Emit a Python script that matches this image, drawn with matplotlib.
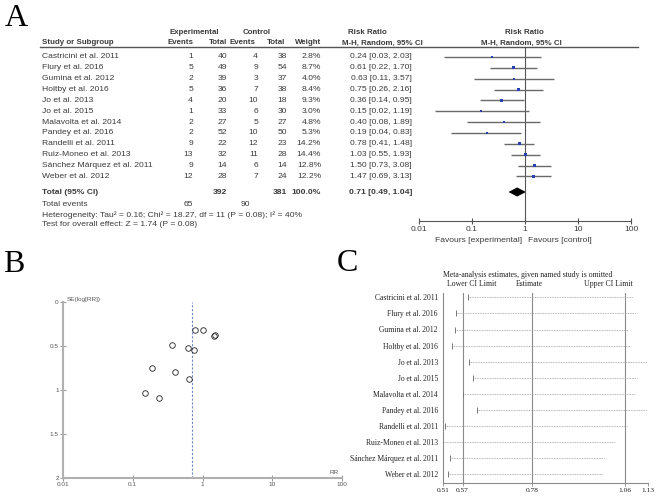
import numpy as np
import matplotlib
matplotlib.use("Agg")
import matplotlib.pyplot as plt

studies = ["Castricini et al. 2011", "Flury et al. 2016", "Gumina et al. 2012", "Holtby et al. 2016",
           "Jo et al. 2013", "Jo et al. 2015", "Malavolta et al. 2014", "Pandey et al. 2016",
           "Randelli et al. 2011", "Ruiz-Moneo et al. 2013", "Sánchez Márquez et al. 2011", "Weber et al. 2012"]
exp_events = [1, 5, 2, 5, 4, 1, 2, 2, 9, 13, 9, 12]
exp_total = [40, 49, 39, 36, 20, 33, 27, 52, 22, 32, 14, 28]
ctrl_events = [4, 9, 3, 7, 10, 6, 5, 10, 12, 11, 6, 7]
ctrl_total = [38, 54, 37, 38, 18, 30, 27, 50, 23, 28, 14, 24]
weights = [2.8, 8.7, 4.0, 8.4, 9.3, 3.0, 4.8, 5.3, 14.2, 14.4, 12.8, 12.2]
rr = [0.24, 0.61, 0.63, 0.75, 0.36, 0.15, 0.40, 0.19, 0.78, 1.03, 1.50, 1.47]
rr_lo = [0.03, 0.22, 0.11, 0.26, 0.14, 0.02, 0.08, 0.04, 0.41, 0.55, 0.73, 0.69]
rr_hi = [2.03, 1.70, 3.57, 2.16, 0.95, 1.19, 1.89, 0.83, 1.48, 1.93, 3.08, 3.13]
total_rr, total_lo, total_hi = 0.71, 0.49, 1.04
total_exp, total_ctrl = 392, 381
events_exp, events_ctrl = 65, 90

# funnel plot: standard error of log RR for each study
se_logrr = [1.09, 0.52, 0.88, 0.54, 0.49, 1.03, 0.79, 0.75, 0.32, 0.32, 0.37, 0.39]

# sensitivity analysis (study omitted)
sens_lo = [0.585, 0.549, 0.547, 0.537, 0.589, 0.601, 0.570, 0.613, 0.516, 0.510, 0.533, 0.527]
sens_hi = [1.085, 1.093, 1.070, 1.075, 1.127, 1.097, 1.090, 1.125, 1.065, 1.030, 0.996, 0.993]
sens_ticks = [0.51, 0.57, 0.78, 1.06, 1.13]
sens_ref = [0.57, 0.78, 1.06]

W, H = 659, 496
fig = plt.figure(figsize=(W / 100, H / 100), dpi=100)


def fax(x0, y0, x1, y1):
    a = fig.add_axes([x0 / W, 1 - y1 / H, (x1 - x0) / W, (y1 - y0) / H])
    a.patch.set_visible(False)
    return a


# overlay for the table text
ov = fax(0, 0, W, H)
ov.set_xlim(0, W)
ov.set_ylim(H, 0)
ov.axis("off")

SANS = "Liberation Sans"
SERIF = "Liberation Serif"
TC = "#3a3a3a"
FS = 6.1
HFS = 5.7


def t(x, y, s, ha="left", fs=FS, fam=SANS, weight="normal", color=TC):
    ov.text(x, y, s, ha=ha, va="center", fontsize=fs, family=fam, weight=weight, color=color)


# panel letters
ov.text(5, 26, "A", fontsize=23, family=SERIF, va="baseline")
ov.text(3, 272, "B", fontsize=23, family=SERIF, va="baseline")
ov.text(337, 271, "C", fontsize=23, family=SERIF, va="baseline")

# ---------- panel A table ----------
t(194, 33, "Experimental", ha="center", fs=HFS, weight="bold")
t(257, 33, "Control", ha="center", fs=HFS, weight="bold")
t(367, 33, "Risk Ratio", ha="center", fs=HFS, weight="bold")
t(524, 33, "Risk Ratio", ha="center", fs=HFS, weight="bold")
t(42, 43, "Study or Subgroup", fs=HFS, weight="bold")
t(193, 43, "Events", ha="right", fs=HFS, weight="bold")
t(227, 43, "Total", ha="right", fs=HFS, weight="bold")
t(255, 43, "Events", ha="right", fs=HFS, weight="bold")
t(285, 43, "Total", ha="right", fs=HFS, weight="bold")
t(321, 43, "Weight", ha="right", fs=HFS, weight="bold")
t(382, 43, "M-H, Random, 95% CI", ha="center", fs=HFS, weight="bold")
t(521, 43, "M-H, Random, 95% CI", ha="center", fs=HFS, weight="bold")
ov.plot([40, 638], [47, 47], color="#555555", lw=1.0)

row0, dy = 57, 10.85
for i, name in enumerate(studies):
    y = row0 + dy * i
    t(42, y, name)
    t(193, y, str(exp_events[i]), ha="right")
    t(227, y, str(exp_total[i]), ha="right")
    t(258, y, str(ctrl_events[i]), ha="right")
    t(287, y, str(ctrl_total[i]), ha="right")
    t(321, y, "%.1f%%" % weights[i], ha="right")
    t(412, y, "%.2f [%.2f, %.2f]" % (rr[i], rr_lo[i], rr_hi[i]), ha="right")

t(42, 192, "Total (95% CI)", weight="bold")
t(227, 192, str(total_exp), ha="right", weight="bold")
t(287, 192, str(total_ctrl), ha="right", weight="bold")
t(321, 192, "100.0%", ha="right", weight="bold")
t(412, 192, "%.2f [%.2f, %.2f]" % (total_rr, total_lo, total_hi), ha="right", weight="bold")
t(42, 204, "Total events")
t(193, 204, str(events_exp), ha="right")
t(250, 204, str(events_ctrl), ha="right")
t(42, 215, "Heterogeneity: Tau² = 0.16; Chi² = 18.27, df = 11 (P = 0.08); I² = 40%")
t(42, 225, "Test for overall effect: Z = 1.74 (P = 0.08)")
t(522, 240, "Favours [experimental]", ha="right")
t(528, 240, "Favours [control]")

# forest plot
fa = fax(419, 47, 631, 221)
rows = np.arange(len(studies))
fa.set_xscale("log")
fa.set_xlim(0.01, 100)
fa.set_ylim((221 - row0) / dy, (47 - row0) / dy)
fa.axvline(1, color="#555555", lw=0.8)
fa.hlines(rows, rr_lo, rr_hi, colors="#6a6a6a", lw=1.0)
fa.scatter(rr, rows, marker="s", s=[0.8 + w * 0.35 for w in weights], color="#2a3fb0", zorder=3, lw=0)
ty = (192 - row0) / dy
fa.fill([total_lo, total_rr, total_hi, total_rr], [ty, ty - 0.42, ty, ty + 0.42], color="black", lw=0)
for s in ["top", "left", "right"]:
    fa.spines[s].set_visible(False)
fa.spines["bottom"].set_color("#555555")
fa.set_yticks([])
fa.set_xticks([0.01, 0.1, 1, 10, 100])
fa.set_xticklabels(["0.01", "0.1", "1", "10", "100"], family=SANS, fontsize=FS, color=TC)
fa.minorticks_off()
fa.tick_params(axis="x", direction="inout", length=5, width=0.8, color="#555555", pad=1.2)

# ---------- panel B funnel ----------
fb = fax(63, 302, 342, 478)
fb.set_xscale("log")
fb.set_xlim(0.01, 100)
fb.set_ylim(2, 0)
fb.axvline(total_rr, color="#6f86c8", ls=(0, (2, 1.5)), lw=0.8)
fb.plot(rr, se_logrr, "o", mfc="none", mec="#222222", ms=4, mew=0.6, clip_on=False)
for s in ["top", "right"]:
    fb.spines[s].set_visible(False)
for s in ["left", "bottom"]:
    fb.spines[s].set_color("#b0b0b0")
    fb.spines[s].set_linewidth(1.5)
fb.set_xticks([0.01, 0.1, 1, 10, 100])
fb.set_xticklabels(["0.01", "0.1", "1", "10", "100"], family=SANS, fontsize=4.6, color="#555555")
fb.set_yticks([0, 0.5, 1, 1.5, 2])
fb.set_yticklabels(["0", "0.5", "1", "1.5", "2"], family=SANS, fontsize=4.6, color="#555555")
fb.minorticks_off()
fb.tick_params(direction="inout", length=4, width=0.8, color="#999999", pad=1)
t(67, 299, "SE(log[RR])", fs=4.6, color="#555555")
t(334, 472, "RR", ha="center", fs=4.6, color="#555555")

# ---------- panel C sensitivity ----------
fc = fax(442.7, 293, 648.3, 483)
crow0, cdy = 297.3, 16.1
fc.set_xlim(sens_ticks[0], sens_ticks[-1])
fc.set_ylim((483 - crow0) / cdy, (293 - crow0) / cdy)
for v in sens_ref:
    fc.axvline(v, color="#8a8a8a", lw=0.8)
fc.hlines(rows, sens_lo, sens_hi, colors="#9a9a9a", linestyles=(0, (1, 1)), lw=0.6)
fc.plot(sens_lo, rows, "|", color="#777777", ms=4, mew=0.7)
for s in ["top", "right"]:
    fc.spines[s].set_visible(False)
for s in ["left", "bottom"]:
    fc.spines[s].set_color("#8a8a8a")
    fc.spines[s].set_linewidth(0.8)
fc.set_xticks(sens_ticks)
fc.set_xticklabels(["%.2f" % v for v in sens_ticks], family=SERIF, fontsize=5.3, color="#222222")
fc.tick_params(axis="x", length=2.5, width=0.6, color="#8a8a8a", pad=1)
fc.set_yticks(rows)
fc.set_yticklabels(studies, family=SERIF, fontsize=5.5, color="#222222")
fc.tick_params(axis="y", length=0, pad=3.4)
t(528, 275, "Meta-analysis estimates, given named study is omitted", ha="center", fs=5.6, fam=SERIF, color="#222222")
t(472, 284.5, "Lower CI Limit", ha="center", fs=5.6, fam=SERIF, color="#222222")
t(529, 284.5, "Estimate", ha="center", fs=5.6, fam=SERIF, color="#222222")
t(608, 284.5, "Upper CI Limit", ha="center", fs=5.6, fam=SERIF, color="#222222")

fig.savefig("out.png", dpi=100)
